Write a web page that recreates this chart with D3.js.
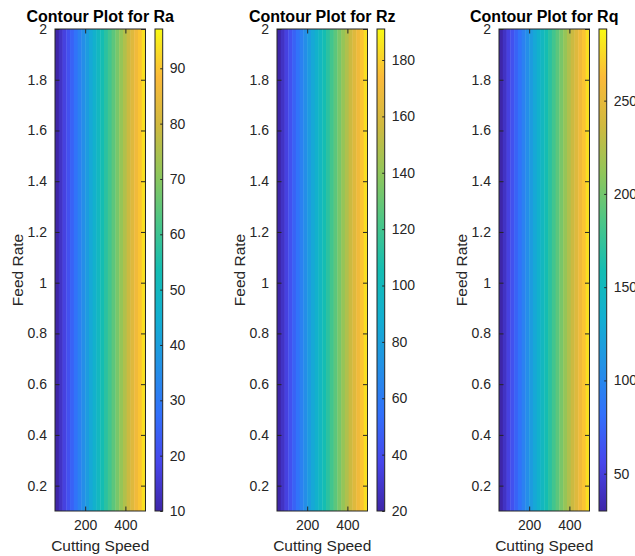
<!DOCTYPE html>
<html>
<head>
<meta charset="utf-8">
<script src="https://cdn.jsdelivr.net/npm/d3@7"></script>
<style>
  body { margin: 0; background: #fff; }
  svg { display: block; font-family: "Liberation Sans", Arial, sans-serif; }
  .tick text { fill: #262626; font-size: 14px; }
  .tick line { stroke: #262626; }
</style>
</head>
<body>
<script>
// cutting speed samples and surface roughness
var speeds = [50, 100, 150, 200, 250, 300, 350, 400, 450, 500];
var feedRange = [0.1, 2];
var raValues = [10, 19.7, 29.4, 39.0, 48.7, 58.4, 68.0, 77.7, 87.4, 97.1];
var rzValues = [20, 39, 58, 77, 96, 115, 134, 153, 172, 191];
var rqValues = [30, 58.7, 87.4, 116.1, 144.8, 173.5, 202.2, 230.9, 259.6, 288.4];

var names = ["Ra", "Rz", "Rq"];
var xTicks = [200, 400];
var yTicks = [0.2, 0.4, 0.6, 0.8, 1, 1.2, 1.4, 1.6, 1.8, 2];
var cbTicks = [
  [10, 20, 30, 40, 50, 60, 70, 80, 90],
  [20, 40, 60, 80, 100, 120, 140, 160, 180],
  [50, 100, 150, 200, 250]
];
var series = [raValues, rzValues, rqValues];

// parula-like colormap
var parula = ["#3e26a8", "#4746eb", "#3270fb", "#2391e6", "#12afd1", "#14bdb2",
  "#4bc687", "#90c65a", "#d0b93f", "#fbba39", "#f8f914"];
var nLevels = 24;

var W = 635, H = 556;
var plotTop = 29, plotBottom = 511, plotW = 90.5, cbGap = 100, cbW = 7.7;
var lefts = [55, 277, 499];

var svg = d3.select("body").append("svg").attr("width", W).attr("height", H);

var defs = svg.append("defs");
var grad = defs.append("linearGradient").attr("id", "cbgrad")
  .attr("x1", 0).attr("y1", 1).attr("x2", 0).attr("y2", 0);
parula.forEach(function(c, i) {
  grad.append("stop").attr("offset", i / (parula.length - 1)).attr("stop-color", c);
});
var cmap = d3.scaleLinear().domain(d3.range(parula.length).map(function(i) { return i / (parula.length - 1); }))
  .range(parula).interpolate(d3.interpolateRgb).clamp(true);

var y = d3.scaleLinear().domain(feedRange).range([plotBottom, plotTop]);
var fmt = function(d) { return String(+d.toFixed(1)); };

series.forEach(function(vals, p) {
  var left = lefts[p];
  var x = d3.scaleLinear().domain([50, 500]).range([left, left + plotW]);
  var ext = d3.extent(vals);
  var speedAt = d3.scaleLinear().domain(vals).range(speeds);
  var levels = d3.range(nLevels + 1).map(function(i) { return ext[0] + (ext[1] - ext[0]) * i / nLevels; });
  var g = svg.append("g");

  // filled contour bands
  g.selectAll("rect.band").data(levels.slice(0, -1)).enter().append("rect")
    .attr("class", "band")
    .attr("x", function(d) { return x(speedAt(d)); })
    .attr("width", function(d, i) { return x(speedAt(levels[i + 1])) - x(speedAt(d)) + 0.4; })
    .attr("y", plotTop).attr("height", plotBottom - plotTop)
    .attr("fill", function(d) { return cmap((d - ext[0]) / (ext[1] - ext[0])); });

  // axes with inward ticks
  g.append("g").attr("transform", "translate(" + left + ",0)")
    .call(d3.axisLeft(y).tickValues(yTicks).tickFormat(fmt).tickSize(-4.5).tickPadding(8))
    .call(function(s) { s.select(".domain").remove(); });
  g.append("g").attr("transform", "translate(" + (left + plotW) + ",0)")
    .call(d3.axisRight(y).tickValues(yTicks).tickFormat("").tickSize(-4.5))
    .call(function(s) { s.select(".domain").remove(); });
  g.append("g").attr("transform", "translate(0," + plotBottom + ")")
    .call(d3.axisBottom(x).tickValues(xTicks).tickSize(-4.5).tickPadding(9))
    .call(function(s) { s.select(".domain").remove(); });
  g.append("g").attr("transform", "translate(0," + plotTop + ")")
    .call(d3.axisTop(x).tickValues(xTicks).tickFormat("").tickSize(-4.5))
    .call(function(s) { s.select(".domain").remove(); });

  g.append("rect").attr("x", left).attr("y", plotTop).attr("width", plotW).attr("height", plotBottom - plotTop)
    .attr("fill", "none").attr("stroke", "#262626").attr("stroke-width", 1);

  // titles and labels
  g.append("text").attr("x", left + plotW / 2).attr("y", 21.5).attr("text-anchor", "middle")
    .attr("font-size", 16).attr("font-weight", "bold").attr("fill", "#000")
    .text("Contour Plot for " + names[p]);
  g.append("text").attr("x", left + plotW / 2).attr("y", 551).attr("text-anchor", "middle")
    .attr("font-size", 15.5).attr("fill", "#262626").text("Cutting Speed");
  g.append("text").attr("transform", "translate(" + (left - 32) + "," + ((plotTop + plotBottom) / 2) + ") rotate(-90)")
    .attr("text-anchor", "middle").attr("font-size", 15.5).attr("fill", "#262626").text("Feed Rate");

  // colorbar
  var cbx = left + cbGap;
  var cy = d3.scaleLinear().domain(ext).range([plotBottom, plotTop]);
  g.append("rect").attr("x", cbx).attr("y", plotTop).attr("width", cbW).attr("height", plotBottom - plotTop)
    .attr("fill", "url(#cbgrad)").attr("stroke", "#262626").attr("stroke-width", 1);
  g.append("g").attr("transform", "translate(" + (cbx + cbW) + ",0)")
    .call(d3.axisRight(cy).tickValues(cbTicks[p]).tickSize(-2.5).tickPadding(7))
    .call(function(s) { s.select(".domain").remove(); });
});
</script>
</body>
</html>
